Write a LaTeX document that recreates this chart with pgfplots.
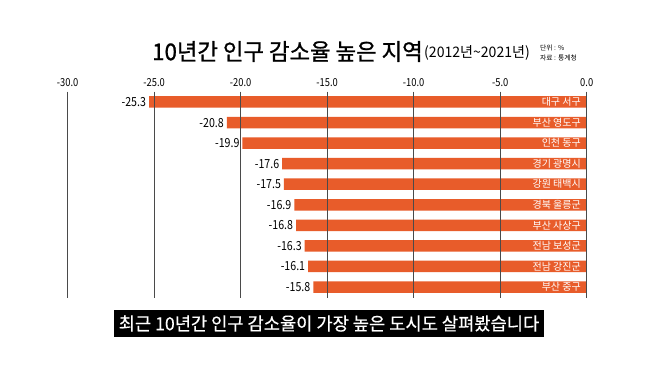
\documentclass[border=0pt]{standalone}
\usepackage{pgfplots}
\pgfplotsset{compat=1.18}
\usepackage{fontspec}
\setmainfont{Noto Sans CJK KR}
\newfontfamily\numfont[FakeStretch=0.85]{Noto Sans CJK KR}
\newfontfamily\titlefont[FakeStretch=0.97,FakeBold=1.0]{Noto Sans CJK KR}
\newfontfamily\subfont[FakeStretch=0.97]{Noto Sans CJK KR}
\newfontfamily\capfont[FakeStretch=0.98,FakeBold=0.4]{Noto Sans CJK KR}
\definecolor{barc}{HTML}{E85C2A}
\definecolor{grid}{HTML}{4A4A4A}
\begin{document}
\begin{tikzpicture}[x=1pt,y=1pt]
\path[use as bounding box,fill=white] (0,0) rectangle (658,370);
\begin{axis}[
  at={(67.7pt,72.3pt)},anchor=south west,
  scale only axis,width=519pt,height=206pt,
  xmin=-30,xmax=0,ymin=-0.5,ymax=9.52,
  y dir=reverse,
  axis x line*=top,axis y line=none,
  axis line style={draw=none},
  xtick={-30,-25,-20,-15,-10,-5,0},
  xticklabel style={font=\numfont\fontsize{11}{12}\selectfont,yshift=1.5pt},
  /pgf/number format/assume math mode=true,
  xticklabel={\pgfmathprintnumber[fixed,fixed zerofill,precision=1]{\tick}},
  major tick length=0pt,
  tick label style={text=black},
  xbar,bar width=11.5pt,
  clip=false,
  nodes near coords,
  point meta=x,
  nodes near coords style={/pgf/number format/.cd,fixed,fixed zerofill,precision=1,assume math mode=true,/tikz/.cd,font=\numfont\fontsize{12.5}{14}\selectfont,text=black,anchor=east,xshift=0.5pt},
]
\addplot[fill=barc,draw=none] coordinates {(-25.3,0) (-20.8,1) (-19.9,2) (-17.6,3) (-17.5,4) (-16.9,5) (-16.8,6) (-16.3,7) (-16.1,8) (-15.8,9)};
\draw[grid,line width=1pt] (axis cs:-30,-0.5) -- (axis cs:-30,9.52);
\draw[grid,line width=1pt] (axis cs:-25,-0.5) -- (axis cs:-25,9.52);
\draw[grid,line width=1pt] (axis cs:-20,-0.5) -- (axis cs:-20,9.52);
\draw[grid,line width=1pt] (axis cs:-15,-0.5) -- (axis cs:-15,9.52);
\draw[grid,line width=1pt] (axis cs:-10,-0.5) -- (axis cs:-10,9.52);
\draw[grid,line width=1pt] (axis cs:-5,-0.5) -- (axis cs:-5,9.52);
\draw[grid,line width=1pt] (axis cs:0,-0.5) -- (axis cs:0,9.52);
\foreach \i/\n in {0/대구 서구,1/부산 영도구,2/인천 동구,3/경기 광명시,4/강원 태백시,5/경북 울릉군,6/부산 사상구,7/전남 보성군,8/전남 강진군,9/부산 중구}{
  \edef\tmp{\noexpand\node[anchor=east,text=white,font=\noexpand\fontsize{10}{11}\noexpand\selectfont,inner sep=0pt] at (axis cs:-0.33,\i) {\n};}
  \tmp
}
\end{axis}
\node[anchor=west,inner sep=0pt,font=\titlefont\fontsize{23}{25}\selectfont] at (152,318.5) {10년간 인구 감소율 높은 지역};
\node[anchor=west,inner sep=0pt,font=\subfont\fontsize{14.5}{16}\selectfont] at (424,317.5) {(2012년{\char"7E}2021년)};
\node[anchor=west,inner sep=0pt,align=left,font=\fontsize{6.8}{10}\selectfont] at (540,317.2) {단위 : \%\\자료 : 통계청};
\fill[black] (114,33) rectangle (544,60);
\node[text=white,inner sep=0pt,font=\capfont\fontsize{18}{20}\selectfont] at (329,46.5) {최근 10년간 인구 감소율이 가장 높은 도시도 살펴봤습니다};
\end{tikzpicture}
\end{document}
